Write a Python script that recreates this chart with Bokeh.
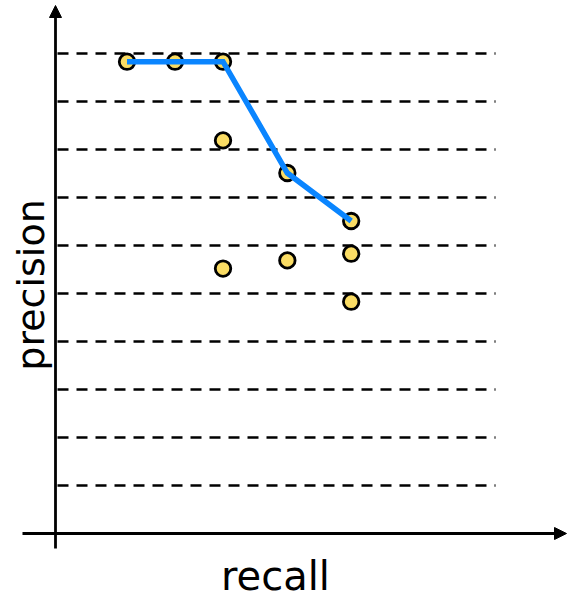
import math
from bokeh.plotting import figure
from bokeh.models import Range1d, Arrow, NormalHead
from bokeh.core.properties import value
from bokeh.embed import file_html
from bokeh.resources import INLINE

# --- data (chart units: one dashed level = 1) ---
recall = [1.49, 2.49, 3.49, 3.49, 3.49, 4.83, 4.83, 6.16, 6.16, 6.16]
precision = [9.83, 9.83, 9.83, 8.19, 5.52, 7.51, 5.69, 6.51, 5.83, 4.83]
interp_recall = [1.49, 3.49, 4.83, 6.16]
interp_precision = [9.83, 9.83, 7.51, 6.51]
levels = [1, 2, 3, 4, 5, 6, 7, 8, 9, 10]
x_label = "recall"
y_label = "precision"

U = 48.0  # px per unit
OX, OY = 55.0, 533.0  # origin in picture px
W, H = 567, 593

def dx(px):
    return (px - OX) / U

def dy(py):
    return (OY - py) / U

p = figure(width=W, height=H,
           x_range=Range1d(dx(0), dx(W)),
           y_range=Range1d(dy(H), dy(0)),
           output_backend="svg", toolbar_location=None, min_border=0)
p.axis.visible = False
p.grid.visible = False
p.outline_line_color = None
p.background_fill_color = "white"
p.border_fill_color = "white"

# dashed horizontal lines
p.segment(x0=[dx(57)] * len(levels), x1=[dx(495)] * len(levels),
          y0=levels, y1=levels, line_color="black", line_width=2.6,
          line_dash="11 8")

# axes with arrows
p.add_layout(Arrow(end=NormalHead(size=12, fill_color="black", line_color="black", line_width=1),
                   x_start=0, y_start=dy(548), x_end=0, y_end=dy(5),
                   line_color="black", line_width=2.8))
p.add_layout(Arrow(end=NormalHead(size=12, fill_color="black", line_color="black", line_width=1),
                   x_start=dx(22), y_start=0, x_end=dx(566), y_end=0,
                   line_color="black", line_width=2.8))

# points
p.scatter(recall, precision, size=15.5, fill_color="#fadc64",
          line_color="black", line_width=2.8)

# interpolated line
p.line(interp_recall, interp_precision, line_color="#0a85ff", line_width=5.5,
       line_join="miter")

# labels
p.text(x=[dx(275)], y=[dy(575)], text=[x_label], text_font=value("DejaVu Sans"),
       text_font_size="40px", text_align="center", text_baseline="middle",
       text_color="black")
p.text(x=[dx(30)], y=[dy(284.5)], text=[y_label], text_font=value("DejaVu Sans"),
       text_font_size="38px", text_align="center", text_baseline="middle",
       angle=math.pi / 2, text_color="black")

open("out.html", "w").write(file_html(p, INLINE))
